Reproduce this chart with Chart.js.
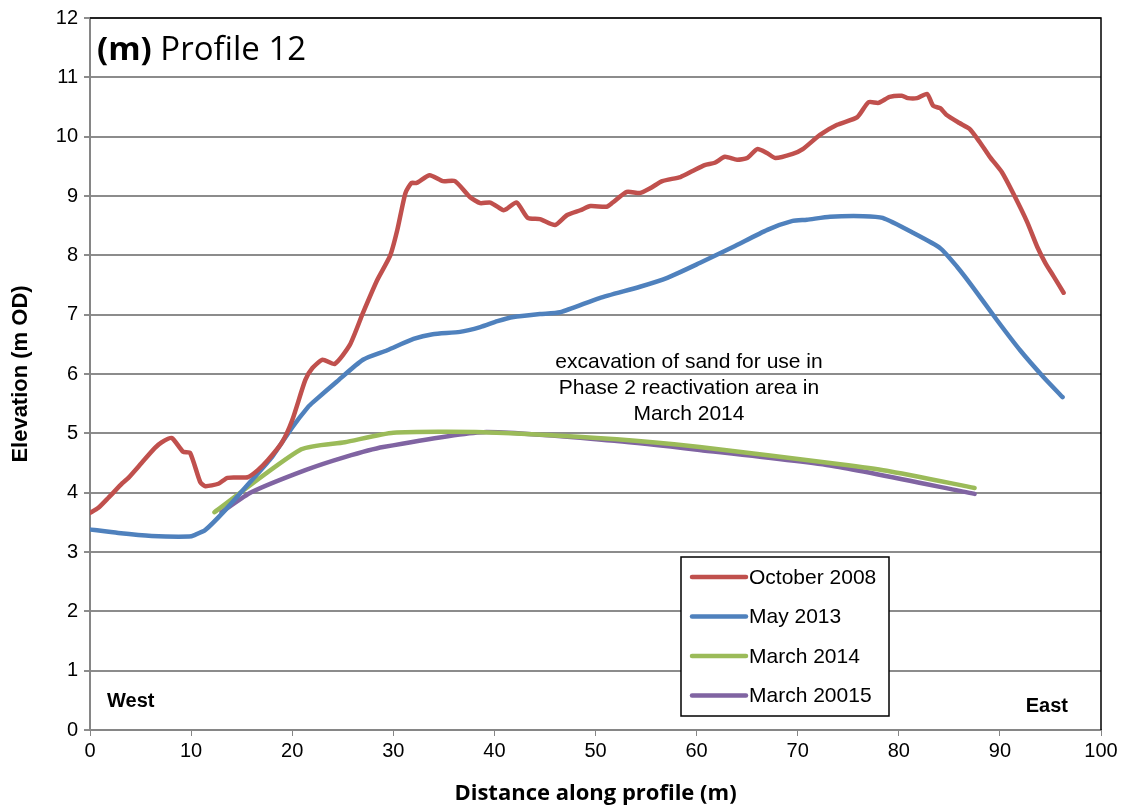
<!DOCTYPE html>
<html>
<head>
<meta charset="utf-8">
<script src="https://cdn.jsdelivr.net/npm/chart.js@4.4.1/dist/chart.umd.min.js"></script>
<style>
  body { margin: 0; background: #fff; }
  #wrap { width: 1123px; height: 807px; }
</style>
</head>
<body>
<div id="wrap"><canvas id="chart" width="1123" height="807"></canvas></div>
<script>
// October 2008
const octX = [0, 0.8, 1.8, 3.2, 3.8, 5.1, 6.4, 7.1, 8.1, 9.2, 9.9, 10.9, 11.4, 12.7, 13.6, 15.6, 16.6, 17.6, 19, 20, 21.3, 22, 23, 24.2, 25.7, 27, 28.4, 29.7, 30.4, 31.2, 31.8, 32.3, 33.6, 34.9, 36.1, 37.6, 38.6, 39.6, 40.9, 41.2, 42.2, 43.3, 44.5, 46, 47.2, 48.5, 49.5, 51.1, 51.7, 53.1, 54.4, 55.4, 56.6, 58.4, 59.6, 60.8, 61.8, 62.8, 64, 65, 66, 67, 67.8, 69.5, 70.5, 72.2, 73.9, 75.9, 77, 78, 79.1, 80.3, 80.9, 81.8, 82.8, 83.4, 84.1, 84.7, 86, 87, 88, 89, 90.2, 91.3, 92.7, 93.7, 94.5, 95.3, 96.3];
const octY = [3.66, 3.74, 3.91, 4.16, 4.25, 4.5, 4.75, 4.85, 4.92, 4.69, 4.67, 4.18, 4.11, 4.15, 4.25, 4.26, 4.38, 4.55, 4.85, 5.22, 5.9, 6.1, 6.24, 6.17, 6.49, 7.03, 7.58, 8.0, 8.43, 9.05, 9.22, 9.22, 9.35, 9.25, 9.25, 8.98, 8.88, 8.89, 8.76, 8.78, 8.89, 8.63, 8.61, 8.51, 8.68, 8.76, 8.83, 8.82, 8.89, 9.07, 9.05, 9.13, 9.25, 9.32, 9.42, 9.52, 9.56, 9.66, 9.61, 9.64, 9.79, 9.72, 9.64, 9.71, 9.79, 10.03, 10.2, 10.33, 10.58, 10.57, 10.67, 10.69, 10.65, 10.65, 10.72, 10.52, 10.48, 10.37, 10.23, 10.13, 9.91, 9.66, 9.4, 9.05, 8.56, 8.14, 7.87, 7.65, 7.37];

// May 2013
const mayX = [0, 2.8, 6.1, 9.8, 10.4, 11.4, 13.4, 16, 18, 20, 21.6, 22.1, 24.4, 27, 29.4, 32, 33.9, 36.6, 38.6, 40.3, 41.9, 44.5, 46.5, 50.4, 54.4, 57.1, 60.3, 63.6, 67, 69.5, 70.9, 73.2, 76.5, 78.4, 81.4, 84.1, 85.8, 87.3, 89.7, 92, 94.3, 96.2];
const mayY = [3.38, 3.32, 3.27, 3.26, 3.29, 3.37, 3.71, 4.21, 4.6, 5.1, 5.45, 5.53, 5.87, 6.24, 6.4, 6.59, 6.67, 6.71, 6.79, 6.89, 6.96, 7.01, 7.04, 7.28, 7.47, 7.62, 7.87, 8.14, 8.43, 8.58, 8.6, 8.65, 8.66, 8.63, 8.38, 8.12, 7.8, 7.47, 6.91, 6.4, 5.95, 5.61];

// March 2014
const m14X = [12.3, 20.9, 25.2, 30, 38.9, 52.1, 60.3, 74.2, 78.8, 87.5];
const m14Y = [3.67, 4.73, 4.85, 5.01, 5.02, 4.9, 4.77, 4.48, 4.37, 4.08];

// March 20015
const m15X = [13, 16, 21.3, 25.2, 29, 38.9, 52.1, 60.3, 73.5, 87.5];
const m15Y = [3.67, 4.01, 4.38, 4.6, 4.77, 5.02, 4.87, 4.72, 4.45, 3.98];

const seriesNames = ['October 2008', 'May 2013', 'March 2014', 'March 20015'];
const seriesColors = ['#C0504D', '#4F81BD', '#9BBB59', '#8064A2'];
const noteLines = ['excavation of sand for use in', 'Phase 2 reactivation area in', 'March 2014'];

function pts(xs, ys) {
  return xs.map((x, i) => ({ x: x, y: ys[i] }));
}

const allData = [pts(octX, octY), pts(mayX, mayY), pts(m14X, m14Y), pts(m15X, m15Y)];

const arial = '"Liberation Sans", Arial, sans-serif';

const extras = {
  id: 'extras',
  afterDraw(chart) {
    const ctx = chart.ctx;
    const a = chart.chartArea;
    ctx.save();
    // frame: top and right black
    ctx.strokeStyle = '#000';
    ctx.lineWidth = 1.5;
    ctx.beginPath();
    ctx.moveTo(a.left, a.top);
    ctx.lineTo(a.right, a.top);
    ctx.lineTo(a.right, a.bottom);
    ctx.stroke();

    // title
    ctx.fillStyle = '#000';
    ctx.textBaseline = 'alphabetic';
    ctx.textAlign = 'left';
    ctx.font = 'bold 33px "Open Sans", sans-serif';
    ctx.fillText('(m)', 97, 60);
    const w = ctx.measureText('(m) ').width;
    ctx.font = '33px "Open Sans", sans-serif';
    ctx.fillText('Profile 12', 97 + w, 60);

    // West / East
    ctx.font = 'bold 20px ' + arial;
    ctx.fillText('West', 107, 707);
    ctx.textAlign = 'right';
    ctx.fillText('East', 1068, 712);

    // annotation
    ctx.textAlign = 'center';
    ctx.font = '21px ' + arial;
    noteLines.forEach((t, i) => ctx.fillText(t, 689, 368 + i * 26));

    // legend box
    ctx.fillStyle = '#fff';
    ctx.fillRect(681, 557, 208, 159);
    ctx.strokeStyle = '#000';
    ctx.lineWidth = 1.5;
    ctx.strokeRect(681, 557, 208, 159);
    ctx.textAlign = 'left';
    ctx.lineCap = 'round';
    seriesNames.forEach((name, i) => {
      const y = 577 + i * 39.5;
      ctx.strokeStyle = seriesColors[i];
      ctx.lineWidth = 4.5;
      ctx.beginPath();
      ctx.moveTo(692, y);
      ctx.lineTo(746, y);
      ctx.stroke();
      ctx.fillStyle = '#000';
      ctx.font = '21px ' + arial;
      ctx.textBaseline = 'middle';
      ctx.fillText(name, 749, y + 1);
    });
    ctx.restore();
  }
};

new Chart(document.getElementById('chart'), {
  type: 'scatter',
  data: {
    datasets: seriesNames.map((name, i) => ({
      label: name,
      data: allData[i],
      showLine: true,
      borderColor: seriesColors[i],
      backgroundColor: seriesColors[i],
      borderWidth: 4.5,
      pointRadius: 0,
      tension: 0.2,
      borderCapStyle: 'round',
      borderJoinStyle: 'round'
    }))
  },
  options: {
    responsive: false,
    animation: false,
    events: [],
    layout: { padding: { top: 18, right: 22, left: 0, bottom: 0 } },
    plugins: {
      legend: { display: false },
      tooltip: { enabled: false }
    },
    scales: {
      x: {
        type: 'linear',
        min: 0,
        max: 100,
        afterFit: (axis) => { axis.height = 77; },
        ticks: {
          stepSize: 10,
          color: '#000',
          font: { family: arial, size: 20 },
          padding: 3
        },
        grid: {
          drawOnChartArea: false,
          color: '#868686',
          tickLength: 6
        },
        border: { color: '#868686', width: 2 },
        title: {
          display: true,
          text: 'Distance along profile (m)',
          color: '#000',
          font: { family: '"Open Sans", sans-serif', size: 22, weight: 'bold' },
          padding: { top: 2, bottom: 0 }
        }
      },
      y: {
        min: 0,
        max: 12,
        afterFit: (axis) => { axis.width = 90; },
        ticks: {
          stepSize: 1,
          color: '#000',
          font: { family: arial, size: 20 },
          padding: 6
        },
        grid: {
          color: '#8c8c8c',
          lineWidth: 2,
          tickLength: 6
        },
        border: { color: '#868686', width: 2 },
        title: {
          display: true,
          text: 'Elevation (m OD)',
          color: '#000',
          font: { family: arial, size: 22, weight: 'bold' },
          padding: { top: 8, bottom: 4 }
        }
      }
    }
  },
  plugins: [extras]
});
</script>
</body>
</html>
